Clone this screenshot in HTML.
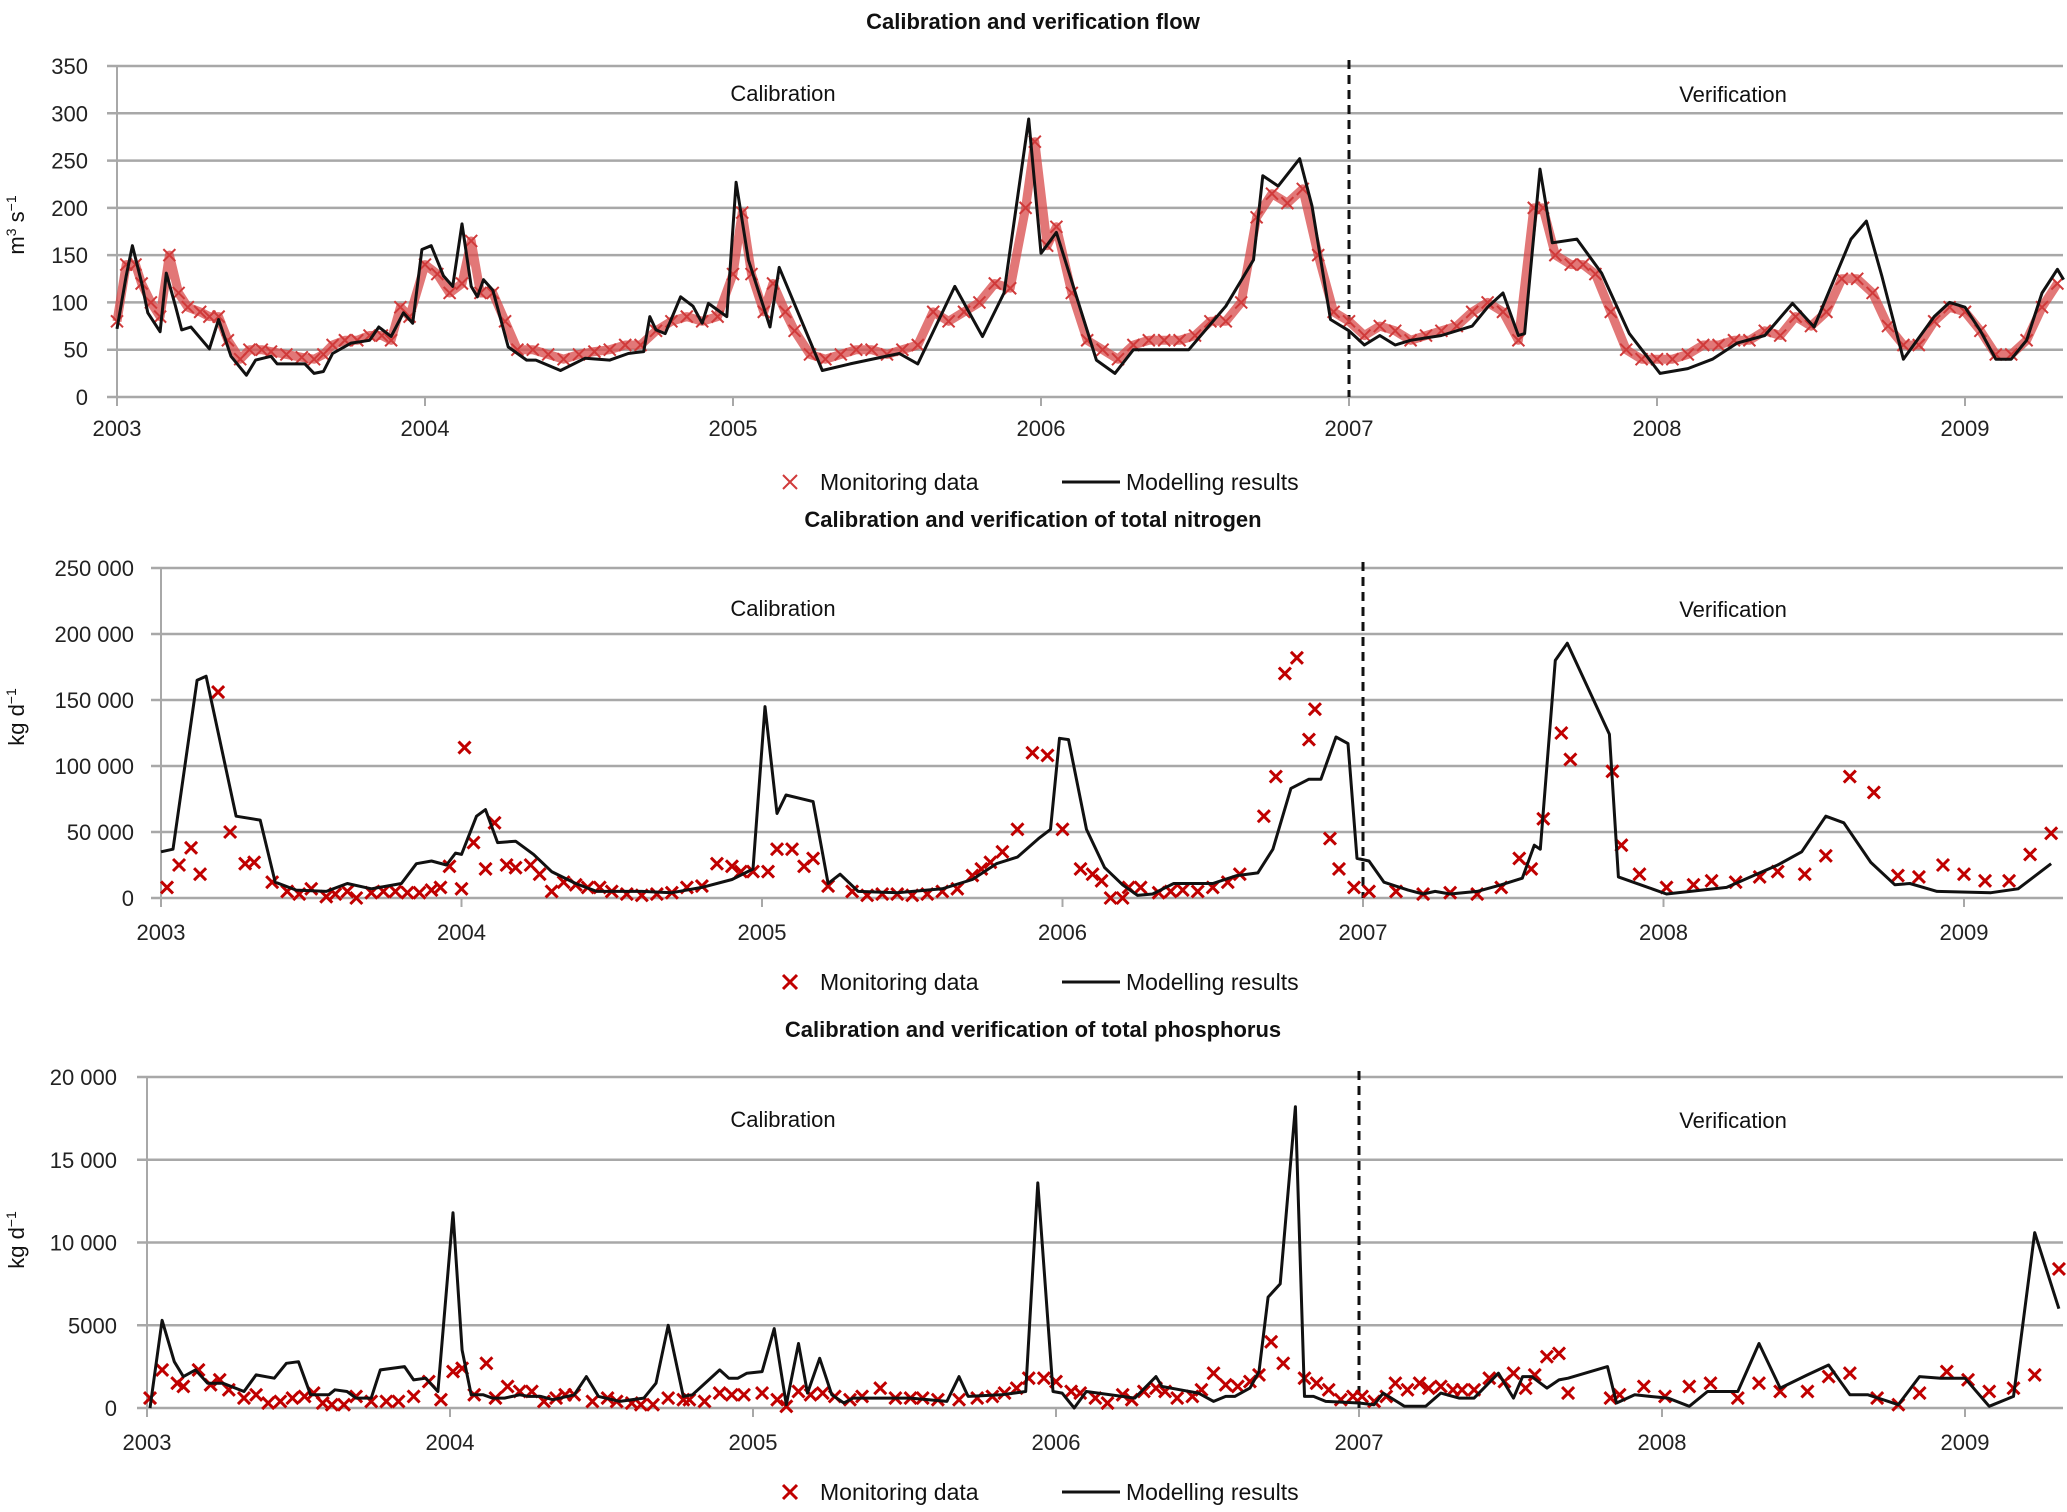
<!DOCTYPE html>
<html><head><meta charset="utf-8">
<style>
html,body{margin:0;padding:0;background:#fff;}
svg{display:block;font-family:"Liberation Sans",sans-serif;}
</style></head>
<body>
<svg id="fig" width="2067" height="1512" viewBox="0 0 2067 1512" xmlns="http://www.w3.org/2000/svg"></svg>
<script>
// ---------- FLOW data ----------
const flowModelT = [2003.0,2003.03,2003.05,2003.08,2003.1,2003.14,2003.16,2003.19,2003.21,2003.24,2003.3,2003.33,2003.37,2003.42,2003.45,2003.5,2003.52,2003.61,2003.64,2003.67,2003.7,2003.76,2003.82,2003.85,2003.89,2003.93,2003.96,2003.99,2004.02,2004.06,2004.09,2004.12,2004.15,2004.17,2004.19,2004.22,2004.27,2004.33,2004.36,2004.44,2004.52,2004.6,2004.66,2004.71,2004.73,2004.75,2004.78,2004.83,2004.87,2004.9,2004.92,2004.98,2005.01,2005.05,2005.12,2005.15,2005.29,2005.38,2005.54,2005.6,2005.72,2005.81,2005.88,2005.96,2006.0,2006.05,2006.18,2006.24,2006.3,2006.48,2006.6,2006.69,2006.72,2006.77,2006.84,2006.88,2006.94,2007.0,2007.05,2007.1,2007.15,2007.2,2007.3,2007.4,2007.45,2007.5,2007.55,2007.57,2007.62,2007.66,2007.74,2007.82,2007.91,2008.01,2008.1,2008.18,2008.26,2008.35,2008.44,2008.51,2008.63,2008.68,2008.73,2008.8,2008.9,2008.95,2009.0,2009.05,2009.1,2009.15,2009.2,2009.25,2009.3,2009.32];
const flowModelV = [72,128,160,121,89,69,131,96,71,74,51,82,43,23,39,43,35,35,25,27,46,57,60,74,64,89,78,156,160,128,117,183,117,106,124,113,53,39,39,28,41,39,46,48,85,71,67,106,96,78,99,85,227,145,74,137,28,35,46,35,117,64,110,294,152,174,39,25,50,50,96,145,234,223,252,202,82,70,55,65,55,60,65,75,95,110,65,67,241,163,167,131,67,25,30,40,57,65,99,74,167,186,128,40,85,100,95,70,40,40,60,110,135,124];
const flowObsT = [2003.0,2003.03,2003.06,2003.08,2003.11,2003.14,2003.17,2003.2,2003.23,2003.27,2003.3,2003.33,2003.36,2003.4,2003.43,2003.47,2003.5,2003.55,2003.6,2003.64,2003.67,2003.7,2003.74,2003.78,2003.82,2003.86,2003.89,2003.92,2003.95,2004.0,2004.04,2004.08,2004.12,2004.15,2004.18,2004.22,2004.26,2004.3,2004.35,2004.4,2004.45,2004.5,2004.55,2004.6,2004.65,2004.7,2004.75,2004.8,2004.85,2004.9,2004.95,2005.0,2005.03,2005.06,2005.1,2005.13,2005.17,2005.2,2005.25,2005.3,2005.35,2005.4,2005.45,2005.5,2005.55,2005.6,2005.65,2005.7,2005.75,2005.8,2005.85,2005.9,2005.95,2005.98,2006.02,2006.05,2006.1,2006.15,2006.2,2006.25,2006.3,2006.35,2006.4,2006.45,2006.5,2006.55,2006.6,2006.65,2006.7,2006.75,2006.8,2006.85,2006.9,2006.95,2007.0,2007.05,2007.1,2007.15,2007.2,2007.25,2007.3,2007.35,2007.4,2007.45,2007.5,2007.55,2007.6,2007.63,2007.67,2007.72,2007.76,2007.8,2007.85,2007.9,2007.95,2008.0,2008.05,2008.1,2008.15,2008.2,2008.25,2008.3,2008.35,2008.4,2008.45,2008.5,2008.55,2008.6,2008.65,2008.7,2008.75,2008.8,2008.85,2008.9,2008.95,2009.0,2009.05,2009.1,2009.15,2009.2,2009.25,2009.3];
const flowObsV = [80,140,140,120,100,85,150,110,95,90,85,85,60,40,50,50,48,45,42,40,45,55,60,60,65,65,60,95,85,140,130,110,120,165,110,110,80,50,50,45,40,45,48,50,55,55,70,80,85,80,85,130,195,130,90,120,90,70,45,40,45,50,50,45,50,55,90,80,90,100,120,115,200,270,160,180,110,60,50,40,55,60,60,60,65,80,80,100,190,215,205,220,150,90,80,65,75,70,60,65,70,75,90,100,90,60,200,200,150,140,140,130,90,50,40,40,40,45,55,55,60,60,70,65,85,75,90,125,125,110,75,55,55,80,95,90,70,45,45,60,95,120];
const flowYTicks = [0,50,100,150,200,250,300,350];
const yearTicks = [2003,2004,2005,2006,2007,2008,2009];

// ---------- NITROGEN data (kg/d) ----------
const nModelT = [2003.0,2003.04,2003.12,2003.15,2003.25,2003.33,2003.38,2003.45,2003.55,2003.62,2003.7,2003.8,2003.85,2003.9,2003.95,2003.98,2004.0,2004.05,2004.08,2004.12,2004.18,2004.24,2004.3,2004.38,2004.45,2004.6,2004.7,2004.8,2004.9,2004.97,2005.01,2005.05,2005.08,2005.17,2005.22,2005.26,2005.32,2005.45,2005.6,2005.7,2005.78,2005.85,2005.92,2005.96,2005.99,2006.02,2006.08,2006.14,2006.2,2006.25,2006.3,2006.37,2006.5,2006.58,2006.65,2006.7,2006.76,2006.82,2006.86,2006.91,2006.95,2006.98,2007.02,2007.07,2007.15,2007.2,2007.24,2007.29,2007.38,2007.46,2007.53,2007.57,2007.59,2007.64,2007.68,2007.82,2007.85,2008.01,2008.21,2008.38,2008.46,2008.54,2008.6,2008.69,2008.77,2008.82,2008.91,2009.09,2009.18,2009.29];
const nModelV = [35000,37000,165000,168000,62000,59000,12000,6000,5000,11000,7000,11000,26000,28000,25000,34000,33000,62000,67000,42000,43000,33000,20000,11000,5000,5000,4000,8000,14000,22000,145000,64000,78000,73000,11000,18000,5000,4000,7000,14000,26000,31000,45000,52000,121000,120000,52000,23000,10000,2000,3000,11000,11000,17000,19000,37000,83000,90000,90000,122000,117000,30000,28000,12000,6000,3000,5000,3000,5000,10000,15000,40000,37000,180000,193000,124000,16000,3000,8000,25000,35000,62000,57000,27000,10000,11000,5000,4000,7000,26000];
const nObsT = [2003.02,2003.06,2003.1,2003.13,2003.19,2003.23,2003.28,2003.31,2003.37,2003.42,2003.46,2003.5,2003.55,2003.58,2003.62,2003.65,2003.7,2003.74,2003.78,2003.82,2003.86,2003.9,2003.93,2003.96,2004.0,2004.01,2004.04,2004.08,2004.11,2004.15,2004.18,2004.23,2004.26,2004.3,2004.34,2004.38,2004.42,2004.46,2004.5,2004.55,2004.6,2004.65,2004.7,2004.75,2004.8,2004.85,2004.9,2004.93,2004.97,2005.02,2005.05,2005.1,2005.14,2005.17,2005.22,2005.3,2005.35,2005.4,2005.45,2005.5,2005.55,2005.6,2005.65,2005.7,2005.73,2005.76,2005.8,2005.85,2005.9,2005.95,2006.0,2006.06,2006.1,2006.13,2006.16,2006.2,2006.22,2006.26,2006.32,2006.36,2006.4,2006.45,2006.5,2006.55,2006.59,2006.67,2006.71,2006.74,2006.78,2006.82,2006.84,2006.89,2006.92,2006.97,2007.02,2007.11,2007.2,2007.29,2007.38,2007.46,2007.52,2007.56,2007.6,2007.66,2007.69,2007.83,2007.86,2007.92,2008.01,2008.1,2008.16,2008.24,2008.32,2008.38,2008.47,2008.54,2008.62,2008.7,2008.78,2008.85,2008.93,2009.0,2009.07,2009.15,2009.22,2009.29];
const nObsV = [8000,25000,38000,18000,156000,50000,26000,27000,12000,5000,3000,7000,1000,3000,5000,0,4000,5000,5000,4000,4000,6000,8000,24000,7000,114000,42000,22000,57000,25000,23000,25000,18000,5000,12000,10000,8000,8000,5000,3000,2000,3000,4000,8000,9000,26000,24000,20000,20000,20000,37000,37000,24000,30000,9000,5000,2000,3000,3000,2000,3000,5000,7000,17000,22000,27000,35000,52000,110000,108000,52000,22000,18000,13000,0,0,8000,8000,4000,5000,6000,5000,8000,12000,18000,62000,92000,170000,182000,120000,143000,45000,22000,8000,5000,5000,3000,4000,3000,8000,30000,22000,60000,125000,105000,96000,40000,18000,8000,10000,13000,12000,16000,20000,18000,32000,92000,80000,17000,16000,25000,18000,13000,13000,33000,49000];
const nYTicks = [0,50000,100000,150000,200000,250000];

// ---------- PHOSPHORUS data (kg/d) ----------
const pModelT = [2003.01,2003.05,2003.09,2003.12,2003.16,2003.2,2003.25,2003.32,2003.36,2003.42,2003.46,2003.5,2003.54,2003.6,2003.62,2003.66,2003.69,2003.74,2003.77,2003.85,2003.88,2003.92,2003.96,2004.01,2004.04,2004.07,2004.11,2004.14,2004.18,2004.23,2004.26,2004.3,2004.34,2004.41,2004.45,2004.49,2004.56,2004.64,2004.68,2004.72,2004.77,2004.8,2004.83,2004.89,2004.92,2004.95,2004.98,2005.03,2005.07,2005.11,2005.15,2005.18,2005.22,2005.26,2005.3,2005.33,2005.52,2005.64,2005.68,2005.71,2005.82,2005.9,2005.94,2005.99,2006.02,2006.06,2006.1,2006.26,2006.33,2006.35,2006.41,2006.47,2006.52,2006.56,2006.59,2006.64,2006.67,2006.7,2006.74,2006.79,2006.82,2006.85,2006.89,2007.0,2007.05,2007.08,2007.15,2007.22,2007.27,2007.33,2007.38,2007.46,2007.51,2007.54,2007.57,2007.62,2007.66,2007.69,2007.82,2007.85,2007.91,2007.96,2008.02,2008.09,2008.15,2008.25,2008.32,2008.39,2008.48,2008.55,2008.62,2008.68,2008.78,2008.85,2008.92,2009.0,2009.08,2009.16,2009.23,2009.31];
const pModelV = [0,5300,2800,1900,2300,1500,1500,1000,2000,1800,2700,2800,800,800,1100,1000,600,600,2300,2500,1700,1800,1000,11800,3500,800,800,600,600,800,700,700,500,800,1900,700,400,600,1500,5000,700,800,1300,2300,1800,1800,2100,2200,4800,200,3900,900,3000,800,300,600,600,400,1900,700,800,1000,13600,1000,900,0,1000,600,1900,1300,1100,900,400,700,700,1200,2200,6700,7500,18200,700,700,400,300,200,900,100,100,900,600,600,2100,600,1900,1900,1200,1700,1800,2500,300,800,700,600,100,1000,1000,3900,1200,2000,2600,800,800,200,1900,1800,1800,100,700,10600,6000];
const pObsT = [2003.01,2003.05,2003.1,2003.12,2003.17,2003.21,2003.24,2003.27,2003.32,2003.36,2003.4,2003.44,2003.48,2003.52,2003.55,2003.58,2003.61,2003.65,2003.69,2003.74,2003.79,2003.83,2003.88,2003.93,2003.97,2004.01,2004.04,2004.08,2004.12,2004.15,2004.19,2004.23,2004.27,2004.31,2004.35,2004.38,2004.41,2004.47,2004.52,2004.55,2004.6,2004.63,2004.67,2004.72,2004.77,2004.79,2004.84,2004.89,2004.93,2004.97,2005.03,2005.08,2005.11,2005.15,2005.19,2005.23,2005.27,2005.32,2005.36,2005.42,2005.47,2005.52,2005.56,2005.61,2005.68,2005.74,2005.79,2005.83,2005.87,2005.91,2005.96,2006.0,2006.05,2006.08,2006.13,2006.17,2006.22,2006.25,2006.29,2006.33,2006.36,2006.4,2006.45,2006.48,2006.52,2006.56,2006.6,2006.64,2006.67,2006.71,2006.75,2006.82,2006.86,2006.9,2006.94,2006.98,2007.01,2007.05,2007.09,2007.12,2007.16,2007.2,2007.23,2007.27,2007.31,2007.34,2007.38,2007.43,2007.48,2007.51,2007.55,2007.58,2007.62,2007.66,2007.69,2007.83,2007.86,2007.94,2008.01,2008.09,2008.16,2008.25,2008.32,2008.39,2008.48,2008.55,2008.62,2008.71,2008.78,2008.85,2008.94,2009.01,2009.08,2009.16,2009.23,2009.31];
const pObsV = [600,2300,1500,1300,2300,1400,1700,1100,600,800,300,400,600,700,900,300,200,200,700,400,400,400,700,1600,500,2200,2400,800,2700,600,1300,1000,1000,400,600,800,800,400,600,400,300,200,200,600,500,500,400,900,800,800,900,500,100,1000,800,900,700,500,700,1200,600,600,600,500,500,600,700,900,1200,1800,1800,1600,1000,900,600,300,800,500,1000,1200,1000,600,700,1100,2100,1400,1300,1600,2000,4000,2700,1800,1500,1100,500,700,700,400,700,1500,1100,1500,1200,1300,1100,1100,1100,1800,1600,2100,1200,2000,3100,3300,900,600,800,1300,700,1300,1500,600,1500,1000,1000,1900,2100,600,200,900,2200,1700,1000,1200,2000,8400];
const pYTicks = [0,5000,10000,15000,20000];
const pYLabels = ["0","5000","10 000","15 000","20 000"];
const nYLabels = ["0","50 000","100 000","150 000","200 000","250 000"];
const flowYLabels = ["0","50","100","150","200","250","300","350"];

const NS = "http://www.w3.org/2000/svg";
const svg = document.getElementById('fig');
function mk(tag, attrs, parent){ const e=document.createElementNS(NS,tag); for(const k in attrs) e.setAttribute(k,attrs[k]); (parent||svg).appendChild(e); return e; }

function panel(cfg){
  const g = mk('g',{});
  
  
  const xs = t => cfg.x0 + (t-2003)*cfg.yw;
  const ys = v => cfg.yBase - v/cfg.yMax*(cfg.yBase-cfg.yTop);
  const tt = mk('text',{x:1033,y:cfg.titleY,'text-anchor':'middle','font-size':22,'font-weight':'bold',fill:'#111'},g);
  tt.textContent = cfg.title;
  
  
  cfg.yTicks.forEach((v,i)=>{
    const gl = mk('line',{x1:cfg.x0-10,x2:2063,y1:ys(v),y2:ys(v),stroke:'#a8a8a8','stroke-width':2.5},g);
    
    
    const tl = mk('text',{x:cfg.labelRight,y:ys(v)+8,'text-anchor':'end','font-size':22,fill:'#222'},g);
    tl.textContent = cfg.yLabels[i];
    
    
  });
  mk('line',{x1:cfg.x0,x2:cfg.x0,y1:cfg.yTop,y2:cfg.yBase+8,stroke:'#a8a8a8','stroke-width':2},g);
  yearTicks.forEach(yr=>{
    mk('line',{x1:xs(yr),x2:xs(yr),y1:cfg.yBase,y2:cfg.yBase+9,stroke:'#a8a8a8','stroke-width':2},g);
    const xl = mk('text',{x:xs(yr),y:cfg.xLabelY,'text-anchor':'middle','font-size':22,fill:'#222'},g);
    xl.textContent = String(yr);
    
    
  });
  const yt = mk('text',{x:0,y:0,'text-anchor':'middle','font-size':22,fill:'#111',transform:`translate(${cfg.ytX},${cfg.ytY}) rotate(-90)`},g);
  yt.innerHTML = cfg.yTitle;
  
  
  const c1 = mk('text',{x:783,y:cfg.periodY,'text-anchor':'middle','font-size':22,fill:'#111'},g);
  c1.textContent='Calibration';
  
  
  const c2 = mk('text',{x:1733,y:cfg.periodY+1,'text-anchor':'middle','font-size':22,fill:'#111'},g);
  c2.textContent='Verification';
  
  
  const dv = mk('line',{x1:xs(2007),x2:xs(2007),y1:cfg.yTop-6,y2:cfg.yBase,stroke:'#111','stroke-width':3,'stroke-dasharray':'9,6'},g);
  
  
  const og = mk('g',{},g);
  
  
  if(cfg.band){
    let d=''; cfg.obsT.forEach((t,i)=>{ d+=(i?'L':'M')+xs(t).toFixed(1)+','+ys(cfg.obsV[i]).toFixed(1); });
    mk('path',{d:d,fill:'none',stroke:'#d84a4a','stroke-width':9,'stroke-linejoin':'round','stroke-opacity':0.75},og);
  }
  const s = cfg.mSize;
  cfg.obsT.forEach((t,i)=>{
    const x=xs(t), y=ys(cfg.obsV[i]);
    const m = mk('path',{d:`M${x-s},${y-s}L${x+s},${y+s}M${x-s},${y+s}L${x+s},${y-s}`,stroke:cfg.mColor,'stroke-width':cfg.mStroke,fill:'none'},og);
    
    
  });
  let d=''; cfg.modT.forEach((t,i)=>{ d+=(i?'L':'M')+xs(t).toFixed(1)+','+ys(cfg.modV[i]).toFixed(1); });
  const ml = mk('path',{d:d,fill:'none',stroke:'#111','stroke-width':3,'stroke-linejoin':'round'},g);
  
  
  const lg = mk('g',{},g);
  
  
  const lx=790, ly=cfg.legendY;
  mk('path',{d:`M${lx-7},${ly-7}L${lx+7},${ly+7}M${lx-7},${ly+7}L${lx+7},${ly-7}`,stroke:cfg.mColor,'stroke-width':cfg.mStroke},lg);
  const l1 = mk('text',{x:820,y:ly+8,'font-size':23,fill:'#111'},lg); l1.textContent='Monitoring data';
  
  
  mk('line',{x1:1062,x2:1120,y1:ly,y2:ly,stroke:'#111','stroke-width':3},lg);
  const l2 = mk('text',{x:1126,y:ly+8,'font-size':23,fill:'#111'},lg); l2.textContent='Modelling results';
  
  
}

panel({name:'flow-chart',title:'Calibration and verification flow',titleY:29,x0:117,yw:308,yBase:397,yTop:66,yMax:350,
  yTicks:flowYTicks,yLabels:flowYLabels,labelRight:88,xLabelY:436,ytX:24,ytY:225,yTitle:'m<tspan baseline-shift="super" font-size="14">3</tspan> s<tspan baseline-shift="super" font-size="14">−1</tspan>',
  periodY:101,legendY:482,obsT:flowObsT,obsV:flowObsV,modT:flowModelT,modV:flowModelV,band:true,mSize:6,mColor:'#d03a3a',mStroke:2});
panel({name:'nitrogen-chart',title:'Calibration and verification of total nitrogen',titleY:527,x0:161,yw:300.5,yBase:898,yTop:568,yMax:250000,
  yTicks:nYTicks,yLabels:nYLabels,labelRight:134,xLabelY:940,ytX:24,ytY:717,yTitle:'kg d<tspan baseline-shift="super" font-size="14">−1</tspan>',
  periodY:616,legendY:982,obsT:nObsT,obsV:nObsV,modT:nModelT,modV:nModelV,band:false,mSize:6,mColor:'#c00000',mStroke:3});
panel({name:'phosphorus-chart',title:'Calibration and verification of total phosphorus',titleY:1037,x0:147,yw:303,yBase:1408,yTop:1077,yMax:20000,
  yTicks:pYTicks,yLabels:pYLabels,labelRight:117,xLabelY:1450,ytX:24,ytY:1240,yTitle:'kg d<tspan baseline-shift="super" font-size="14">−1</tspan>',
  periodY:1127,legendY:1492,obsT:pObsT,obsV:pObsV,modT:pModelT,modV:pModelV,band:false,mSize:6,mColor:'#c00000',mStroke:3});
</script>
</body></html>
